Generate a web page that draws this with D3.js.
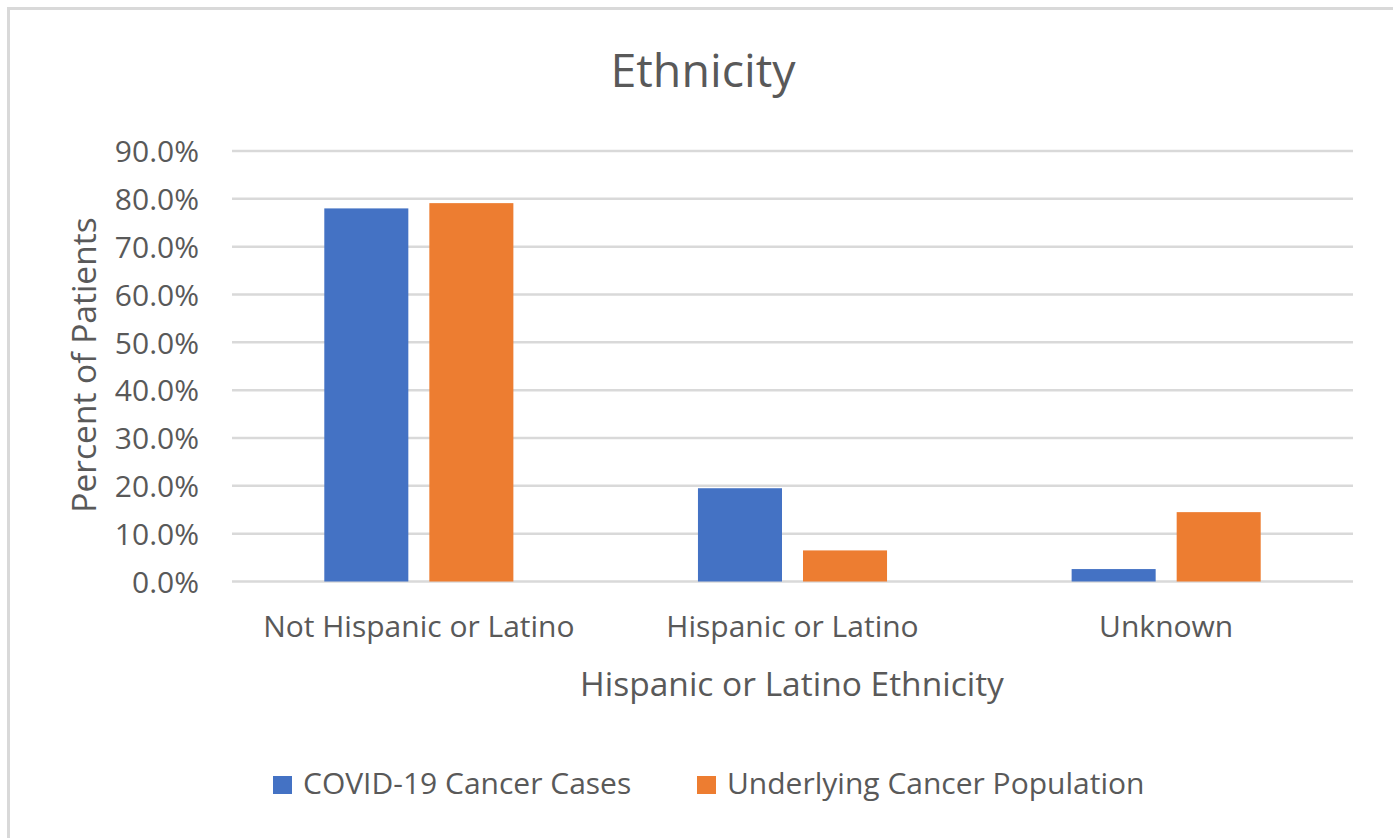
<!DOCTYPE html>
<html>
<head>
<meta charset="utf-8">
<script src="https://cdn.jsdelivr.net/npm/d3@7"></script>
<style>
  body { margin: 0; background: #fff; }
  text { font-family: "Open Sans", sans-serif; fill: #595959; }
</style>
</head>
<body>
<div id="chart"></div>
<script>
// Chart data
const categories = ["Not Hispanic or Latino", "Hispanic or Latino", "Unknown"];
const seriesNames = ["COVID-19 Cancer Cases", "Underlying Cancer Population"];
const covidCases = [78.0, 19.5, 2.6];
const underlyingPop = [79.1, 6.5, 14.5];
const yTicks = [0, 10, 20, 30, 40, 50, 60, 70, 80, 90];
const colors = ["#4472c4", "#ed7d31"];

// Format container
const width = 1393, height = 838;
const margin = { top: 151, right: 40, bottom: 256.5, left: 232 };

const svg = d3.select("#chart").append("svg")
    .attr("width", width)
    .attr("height", height);

// Outer chart border (only top/left visible in the crop)
svg.append("rect")
    .attr("x", 8.5).attr("y", 8.5)
    .attr("width", 1420).attr("height", 900)
    .attr("fill", "none")
    .attr("stroke", "#d9d9d9")
    .attr("stroke-width", 3);

// Scales
const x0 = d3.scaleBand().domain(categories)
    .range([margin.left, width - margin.right])
    .paddingInner(0.494)
    .paddingOuter(0.247);

const x1 = d3.scaleBand().domain(seriesNames)
    .range([0, x0.bandwidth()])
    .paddingInner(0.2);

const y = d3.scaleLinear().domain([0, 90])
    .range([height - margin.bottom, margin.top]);

// Gridlines
svg.append("g")
    .selectAll("line")
    .data(yTicks)
    .join("line")
    .attr("x1", margin.left)
    .attr("x2", width - margin.right)
    .attr("y1", d => y(d))
    .attr("y2", d => y(d))
    .attr("stroke", "#d9d9d9")
    .attr("stroke-width", 2.5);

// Y axis labels
const yAxis = g => g
    .attr("transform", `translate(${margin.left - 33},0)`)
    .call(d3.axisLeft(y).tickValues(yTicks).tickSize(0).tickFormat(d => d.toFixed(1) + "%"))
    .call(g => g.select(".domain").remove())
    .call(g => g.selectAll("text")
        .attr("font-size", 30)
        .attr("x", 0)
        .attr("dy", "0.36em")
        .style("font-family", "'Open Sans', sans-serif")
        .attr("fill", "#595959"));

svg.append("g").call(yAxis);

// Bars
const rows = categories.map((c, i) => ({ cat: c, values: [covidCases[i], underlyingPop[i]] }));

svg.append("g")
    .selectAll("g")
    .data(rows)
    .join("g")
    .attr("transform", d => `translate(${x0(d.cat)},0)`)
    .selectAll("rect")
    .data(d => d.values.map((v, j) => ({ key: seriesNames[j], value: v, j: j })))
    .join("rect")
    .attr("x", d => x1(d.key))
    .attr("y", d => y(d.value))
    .attr("width", x1.bandwidth())
    .attr("height", d => y(0) - y(d.value))
    .attr("fill", d => colors[d.j]);

// X axis labels
const xAxis = g => g
    .attr("transform", `translate(0,${y(0)})`)
    .call(d3.axisBottom(x0).tickSize(0))
    .call(g => g.select(".domain").remove())
    .call(g => g.selectAll("text")
        .attr("font-size", 30)
        .attr("y", 55)
        .attr("dy", 0)
        .style("font-family", "'Open Sans', sans-serif")
        .attr("fill", "#595959"));

svg.append("g").call(xAxis);

// Chart title
svg.append("text")
    .attr("x", 703)
    .attr("y", 87)
    .attr("text-anchor", "middle")
    .attr("font-size", 46.5)
    .text("Ethnicity");

// Axis titles
svg.append("text")
    .attr("x", 792)
    .attr("y", 696)
    .attr("text-anchor", "middle")
    .attr("font-size", 33.5)
    .text("Hispanic or Latino Ethnicity");

svg.append("text")
    .attr("transform", "translate(96,365) rotate(-90)")
    .attr("text-anchor", "middle")
    .attr("font-size", 33.5)
    .text("Percent of Patients");

// Legend
const legendX = [273, 697];
const legend = svg.append("g")
    .selectAll("g")
    .data(seriesNames)
    .join("g")
    .attr("transform", (d, i) => `translate(${legendX[i]},776)`);

legend.append("rect")
    .attr("width", 19)
    .attr("height", 18)
    .attr("fill", (d, i) => colors[i]);

legend.append("text")
    .attr("x", 30)
    .attr("y", 18)
    .attr("font-size", 30)
    .text(d => d);
</script>
</body>
</html>
